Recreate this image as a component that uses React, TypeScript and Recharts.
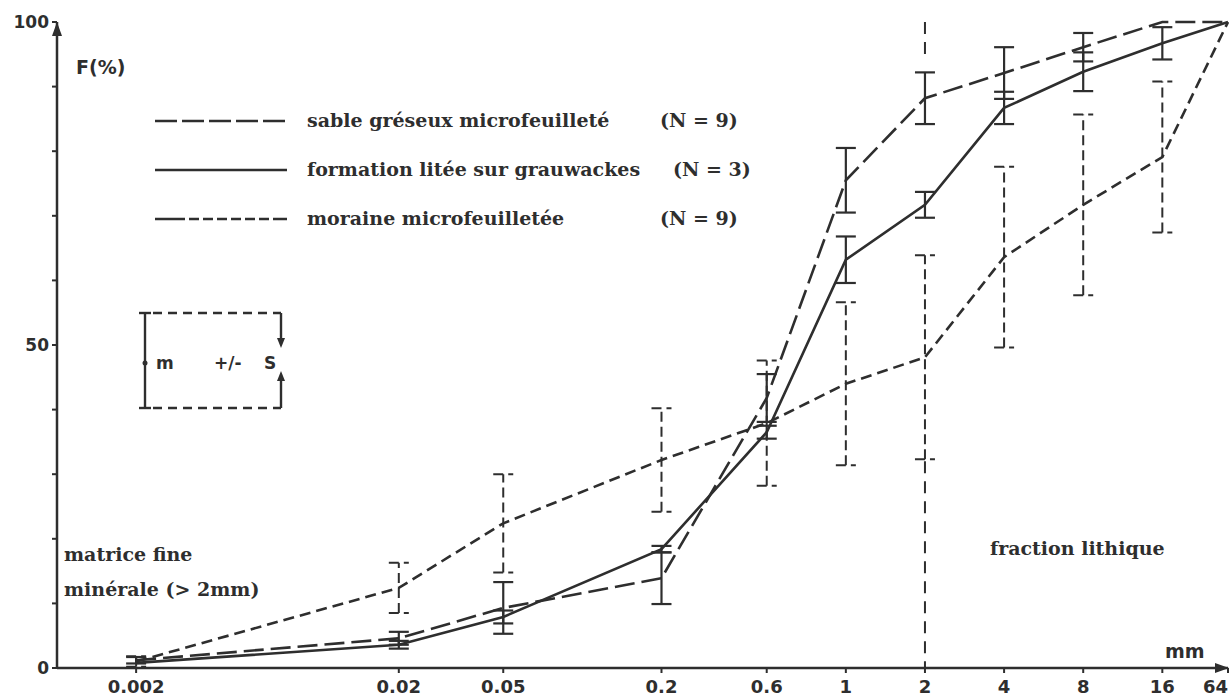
import React from 'react';
import { LineChart, Line, XAxis, YAxis, ErrorBar, ReferenceLine } from 'recharts';

// sieve sizes (mm) and their graduation labels
const sieveLabels = ['0.002', '0.02', '0.05', '0.2', '0.6', '1', '2', '4', '8', '16', '64'];
const sieveMm = [0.002, 0.02, 0.05, 0.2, 0.6, 1, 2, 4, 8, 16, 64];
// where each sieve is graduated on the size axis, in octaves above 2 µm
// (log2 scale; the 64 mm stones are pushed up against the end of the axis)
const sieveOctaves = [0, 3.32, 4.64, 6.64, 7.97, 8.97, 9.97, 10.97, 11.97, 12.97, 13.8];

// cumulative passing F(%): mean m and standard deviation s
const sableMean = [1.2, 4.6, 9.3, 13.9, 41.8, 75.5, 88.2, 92.1, 96.1, 100, 100];
const sableSd = [0.5, 1, 4, 4, 3.7, 5, 4, 4, 2.2, null, null];
const liteeMean = [0.8, 3.6, 7.9, 18.4, 36.5, 63.2, 71.7, 86.7, 92.3, 96.7, 100];
const liteeSd = [null, 0.6, 1, 0.5, 1, 3.6, 2, 2.5, 3, 2.5, null];
const moraineMean = [1, 12.4, 22.4, 32.2, 37.9, 44, 48.1, 63.6, 71.7, 79.1, 100];
const moraineSd = [0.8, 3.9, 7.6, 8, 9.7, 12.6, 15.8, 14, 14, 11.7, null];

const yTicks = [0, 10, 20, 30, 40, 50, 60, 70, 80, 90, 100];

const rows = sieveMm.map((mm, i) => ({
  mm,
  pos: sieveOctaves[i],
  sable: sableMean[i],
  sableSd: sableSd[i] ?? undefined,
  litee: liteeMean[i],
  liteeSd: liteeSd[i] ?? undefined,
  moraine: moraineMean[i],
  moraineSd: moraineSd[i] ?? undefined,
}));

const INK = '#2e2e2e';
const sans = 'DejaVu Sans';
const serif = 'DejaVu Serif';
const at2mm = sieveOctaves[sieveMm.indexOf(2)];

const tickStyle = { fill: INK, fontSize: 18, fontWeight: 700, fontFamily: sans };

// size labels; the last one is kept inside the right edge
function SizeTick(props: any) {
  const { x, y, payload } = props;
  const i = sieveOctaves.indexOf(payload.value);
  const last = i === sieveOctaves.length - 1;
  return (
    <text x={x} y={y} dy="0.71em" textAnchor={last ? 'end' : 'middle'} {...tickStyle}>
      {sieveLabels[i] ?? ''}
    </text>
  );
}

const legendRows = [
  { label: 'sable gréseux microfeuilleté', n: '(N = 9)', nx: 660, dash: '22 5', y: 121 },
  { label: 'formation litée sur grauwackes', n: '(N = 3)', nx: 673, dash: undefined, y: 170 },
  {
    label: 'moraine microfeuilletée',
    n: '(N = 9)',
    nx: 660,
    dash: '30 4 10 4 10 4 10 4 10 4 10 4 10 4',
    y: 219,
  },
];

function Annotations() {
  const txt = { fill: INK, fontFamily: serif, fontWeight: 700, fontSize: 19 } as const;
  const lab = { fill: INK, fontFamily: sans, fontWeight: 700, fontSize: 17 } as const;
  return (
    <svg
      width={1229}
      height={700}
      style={{ position: 'absolute', left: 0, top: 0, pointerEvents: 'none' }}
    >
      {/* axis arrows */}
      <polygon points="57,22 52,36 62,36" fill={INK} />
      <polygon points="1229,668 1215,663 1215,673" fill={INK} />

      <text x={76} y={74} {...lab} fontSize={19}>F(%)</text>
      <text x={1165} y={658} {...lab} fontSize={19}>mm</text>

      {legendRows.map((r) => (
        <g key={r.label}>
          <line x1={155} x2={287} y1={r.y} y2={r.y} stroke={INK} strokeWidth={2.6} strokeDasharray={r.dash} />
          <text x={307} y={r.y + 6} {...txt}>{r.label}</text>
          <text x={r.nx} y={r.y + 6} {...txt}>{r.n}</text>
        </g>
      ))}

      {/* key: mean m with its +/- s bar */}
      <g stroke={INK} strokeWidth={2.4} fill="none">
        <line x1={145} x2={145} y1={313} y2={408} />
        <line x1={139} x2={151} y1={313} y2={313} />
        <line x1={139} x2={151} y1={408} y2={408} />
        <line x1={153} x2={281} y1={313} y2={313} strokeDasharray="9 6" />
        <line x1={153} x2={281} y1={408} y2={408} strokeDasharray="9 6" />
        <line x1={281} x2={281} y1={313} y2={340} />
        <line x1={281} x2={281} y1={408} y2={378} />
      </g>
      <circle cx={145} cy={363} r={2.5} fill={INK} />
      <polygon points="281,348 277,338 285,338" fill={INK} />
      <polygon points="281,371 277,381 285,381" fill={INK} />
      <text x={156} y={369} {...lab}>m</text>
      <text x={214} y={369} {...lab}>+/-</text>
      <text x={264} y={369} {...lab}>S</text>

      <text x={64} y={561} {...txt}>matrice  fine</text>
      <text x={64} y={596} {...txt}>minérale (&gt; 2mm)</text>
      <text x={990} y={555} {...txt}>fraction lithique</text>
    </svg>
  );
}

export default function App() {
  return (
    <div style={{ position: 'absolute', left: 0, top: 0, width: 1229, height: 700, background: '#fff' }}>
      <LineChart width={1229} height={700} data={rows} margin={{ top: 22, right: 1, bottom: 0, left: 0 }}>
        <XAxis
          type="number"
          dataKey="pos"
          domain={[-1, 13.8]}
          ticks={sieveOctaves}
          interval={0}
          height={32}
          tickSize={5}
          tickMargin={7}
          axisLine={{ stroke: INK, strokeWidth: 2.5 }}
          tickLine={{ stroke: INK, strokeWidth: 2 }}
          tick={<SizeTick />}
        />
        <XAxis
          xAxisId="top"
          orientation="top"
          type="number"
          dataKey="pos"
          domain={[-1, 13.8]}
          ticks={sieveOctaves.slice(0, 2)}
          height={0}
          mirror
          tick={() => <g />}
          tickSize={6}
          axisLine={{ stroke: INK, strokeWidth: 2.5 }}
          tickLine={{ stroke: INK, strokeWidth: 2 }}
        />
        <YAxis
          type="number"
          domain={[0, 100]}
          ticks={yTicks}
          interval={0}
          width={57}
          tickSize={5}
          tickMargin={3}
          tickFormatter={(v: number) => (v % 50 === 0 ? String(v) : '')}
          axisLine={{ stroke: INK, strokeWidth: 2.5 }}
          tickLine={{ stroke: INK, strokeWidth: 2 }}
          tick={{ ...tickStyle, fontSize: 17 }}
        />

        {/* boundary between the fine matrix and the lithic fraction */}
        <ReferenceLine
          segment={[{ x: at2mm, y: 100 }, { x: at2mm, y: 94 }]}
          stroke={INK}
          strokeWidth={2}
          strokeDasharray="12 8"
        />
        <ReferenceLine
          segment={[{ x: at2mm, y: 32 }, { x: at2mm, y: 0 }]}
          stroke={INK}
          strokeWidth={2}
          strokeDasharray="12 8"
        />

        <Line
          dataKey="sable"
          stroke={INK}
          strokeWidth={2.6}
          strokeDasharray="20 7"
          dot={false}
          isAnimationActive={false}
        >
          <ErrorBar dataKey="sableSd" direction="y" width={10} stroke={INK} strokeWidth={2.2} />
        </Line>
        <Line dataKey="litee" stroke={INK} strokeWidth={2.6} dot={false} isAnimationActive={false}>
          <ErrorBar dataKey="liteeSd" direction="y" width={10} stroke={INK} strokeWidth={2.2} />
        </Line>
        <Line
          dataKey="moraine"
          stroke={INK}
          strokeWidth={2.6}
          strokeDasharray="11 6"
          dot={false}
          isAnimationActive={false}
        >
          <ErrorBar
            dataKey="moraineSd"
            direction="y"
            width={10}
            stroke={INK}
            strokeWidth={2}
            strokeDasharray="10 5"
          />
        </Line>
      </LineChart>
      <Annotations />
    </div>
  );
}
